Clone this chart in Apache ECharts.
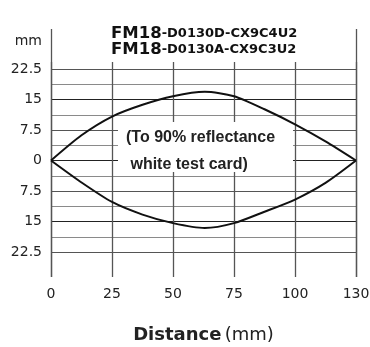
<!DOCTYPE html>
<html><head><meta charset="utf-8">
<script src="https://cdn.jsdelivr.net/npm/echarts@6/dist/echarts.min.js"></script>
<style>html,body{margin:0;padding:0;background:#fff}#c{width:370px;height:347px}</style>
</head><body><div id="c"></div>
<script>
// Tick labels of the distance axis (evenly spaced columns)
const xTickLabels = [0, 25, 50, 75, 100, 130];
// Lateral tick values (mm); only every other one is labelled
const yTicks = [-22.5, -18.75, -15, -11.25, -7.5, -3.75, 0, 3.75, 7.5, 11.25, 15, 18.75, 22.5];
const yLabelled = [-22.5, -15, -7.5, 0, 7.5, 15, 22.5];
// Upper boundary of detection zone
const upperDist = [0, 12.5, 25, 37.5, 50, 63, 75, 87.5, 100, 115, 130];
const upperMm   = [0, 6.2, 10.8, 13.7, 15.8, 16.9, 15.8, 12.6, 8.9, 4.7, 0];
// Lower boundary of detection zone
const lowerDist = [0, 12.5, 25, 37.5, 50, 63, 75, 87.5, 100, 115, 130];
const lowerMm   = [0, -5.4, -10.2, -13.3, -15.4, -16.6, -15.4, -12.6, -9.6, -5.5, 0];

// distance (mm) -> position on the evenly spaced column axis
function toPos(d) {
  for (let i = 0; i < xTickLabels.length - 1; i++) {
    const a = xTickLabels[i], b = xTickLabels[i + 1];
    if (d <= b) return i + (d - a) / (b - a);
  }
  return xTickLabels.length - 1;
}
const upperData = upperDist.map((d, i) => [toPos(d), upperMm[i]]);
const lowerData = lowerDist.map((d, i) => [toPos(d), lowerMm[i]]);

const FONT = 'DejaVu Sans';
const chart = echarts.init(document.getElementById('c'), null, {renderer: 'canvas'});
const L = 51, R = 14;
chart.setOption({
  animation: false,
  backgroundColor: '#fff',
  title: {
    left: 106, top: 21,
    text: '{a|FM18}{b|-D0130D-CX9C4U2}\n{a|FM18}{b|-D0130A-CX9C3U2}',
    textStyle: {
      lineHeight: 16,
      rich: {
        a: {fontFamily: FONT, fontWeight: 'bold', fontSize: 16.5, color: '#111', lineHeight: 16},
        b: {fontFamily: FONT, fontWeight: 'bold', fontSize: 13, color: '#111', lineHeight: 16}
      }
    }
  },
  grid: [
    {left: L, right: R, top: 69, bottom: 95, outerBoundsMode: 'none', containLabel: false},
    {left: L, right: R, top: 62, bottom: 70, outerBoundsMode: 'none', containLabel: false},
    {left: L, right: R, top: 29, bottom: 70, outerBoundsMode: 'none', containLabel: false}
  ],
  xAxis: [
    {gridIndex: 0, type: 'value', min: 0, max: xTickLabels.length - 1, interval: 1,
     axisLine: {show: false}, axisTick: {show: false}, axisLabel: {show: false}, splitLine: {show: false}},
    {gridIndex: 1, type: 'value', min: 0, max: xTickLabels.length - 1, interval: 1,
     axisLine: {show: false}, axisTick: {show: false},
     axisLabel: {margin: 10, fontFamily: FONT, fontSize: 14, color: '#222',
                 formatter: v => String(xTickLabels[Math.round(v)])},
     splitLine: {show: true, lineStyle: {color: '#555', width: 1.3}},
     name: '{b|Distance} {n|(mm)}', nameLocation: 'middle', nameGap: 49,
     nameTextStyle: {rich: {
       b: {fontFamily: FONT, fontWeight: 'bold', fontSize: 18, color: '#222'},
       n: {fontFamily: FONT, fontSize: 18, color: '#222'}
     }}},
    {gridIndex: 2, type: 'value', min: 0, max: xTickLabels.length - 1, interval: xTickLabels.length - 1,
     axisLine: {show: false}, axisTick: {show: false}, axisLabel: {show: false},
     splitLine: {show: true, lineStyle: {color: '#555', width: 1.3}}}
  ],
  yAxis: [
    {gridIndex: 0, type: 'value', min: yTicks[0], max: yTicks[yTicks.length - 1], interval: 3.75,
     axisLine: {show: false}, axisTick: {show: false},
     axisLabel: {margin: 9, fontFamily: FONT, fontSize: 14, color: '#222',
                 formatter: v => yLabelled.some(t => Math.abs(t - v) < 1e-6) ? String(Math.abs(v)) : ''},
     splitLine: {show: true, lineStyle: {width: 1, color: ['#555', '#8a8a8a', '#222', '#8a8a8a']}},
     name: 'mm', nameLocation: 'end', nameGap: 21,
     nameTextStyle: {fontFamily: FONT, fontSize: 14, color: '#222', align: 'right', padding: [0, 9, 0, 0]}},
    {gridIndex: 1, type: 'value', show: false, min: 0, max: 1},
    {gridIndex: 2, type: 'value', show: false, min: 0, max: 1}
  ],
  series: [
    {type: 'line', xAxisIndex: 0, yAxisIndex: 0, data: upperData, smooth: 0.25,
     showSymbol: false, lineStyle: {color: '#111', width: 2}, z: 5},
    {type: 'line', xAxisIndex: 0, yAxisIndex: 0, data: lowerData, smooth: 0.25,
     showSymbol: false, lineStyle: {color: '#111', width: 2}, z: 5}
  ],
  graphic: [
    {type: 'rect', z: 3, shape: {x: 118, y: 122, width: 175, height: 50}, style: {fill: '#fff'}},
    {type: 'text', z: 4, left: 126, top: 124,
     style: {text: '(To 90% reflectance\n white test card)', fontFamily: 'Liberation Sans',
             fontWeight: 'bold', fontSize: 16, lineHeight: 27, fill: '#222'}}
  ]
});
</script></body></html>
